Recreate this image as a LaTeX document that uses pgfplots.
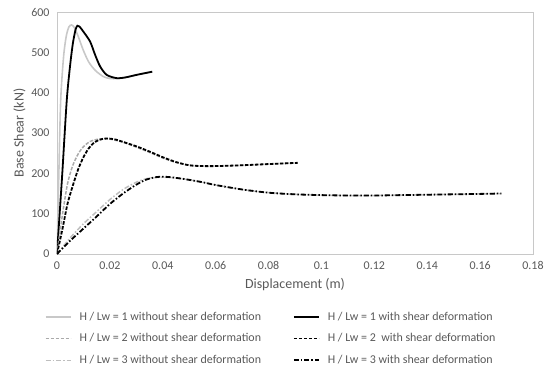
\documentclass[border=0pt]{standalone}
\usepackage{fontspec}
\setmainfont{Carlito}
\usepackage{pgfplots}
\pgfplotsset{compat=1.18}
\definecolor{txt}{RGB}{89,89,89}
\definecolor{frame}{RGB}{200,200,200}
\definecolor{gA}{RGB}{200,200,200}
\definecolor{gB}{RGB}{170,170,170}
\definecolor{gC}{RGB}{190,190,190}
\begin{document}
\begin{tikzpicture}
\useasboundingbox (-57bp,-124bp) rectangle (493bp,254bp);
\begin{axis}[
  scale only axis, width=476bp, height=242bp,
  xmin=0, xmax=0.18, ymin=0, ymax=600,
  xtick={0,0.02,0.04,0.06,0.08,0.1,0.12,0.14,0.16,0.18},
  ytick={0,100,200,300,400,500,600},
  major tick length=0pt,
  axis line style={frame, line width=0.8bp},
  /pgf/number format/assume math mode=true,
  xticklabel style={/pgf/number format/fixed, /pgf/number format/precision=2, font=\fontsize{12}{14}\selectfont, text=txt, yshift=-4bp},
  yticklabel style={font=\fontsize{12}{14}\selectfont, text=txt, xshift=-4bp},
  scaled x ticks=false,
  xlabel={Displacement (m)}, ylabel={Base Shear (kN)},
  xlabel style={font=\fontsize{14}{16}\selectfont, text=txt, yshift=-2bp},
  ylabel style={font=\fontsize{14}{16}\selectfont, text=txt, yshift=-1bp},
  legend columns=2,
  legend cell align=left,
  legend style={draw=none, fill=none, at={(0.45,-0.222)}, anchor=north,
    font=\fontsize{12}{14}\selectfont, text=txt,
    /tikz/every odd column/.append style={column sep=6bp},
    /tikz/every even column/.append style={column sep=30bp},
    row sep=8bp},
  legend image code/.code={\draw[#1] (0bp,0bp) -- (25bp,0bp);},
  every axis plot/.append style={smooth, tension=0.45},
]
% H/Lw=1 without
\addplot[color=gA, line width=1.6bp] coordinates {
(0,0)(0.0007,200)(0.0014,382)(0.0025,490)(0.0035,540)(0.0045,563)(0.0055,568)(0.0065,562)(0.008,540)(0.0099,506)(0.012,476)(0.0145,455)(0.0175,440)(0.02,435)(0.023,435)(0.026,438)(0.03,444)(0.036,452)};
\addlegendentry{H / Lw = 1 without shear deformation}
% H/Lw=1 with
\addplot[color=black, line width=1.8bp] coordinates {
(0,0)(0.001,100)(0.002,200)(0.0037,382)(0.005,470)(0.006,522)(0.007,556)(0.0077,566)(0.0085,564)(0.0099,552)(0.0125,527)(0.0144,494)(0.0163,465)(0.0188,444)(0.0226,436)(0.026,438)(0.03,444)(0.036,452)};
\addlegendentry{H / Lw = 1 with shear deformation}
% H/Lw=2 without
\addplot[color=gB, line width=1.5bp, dash pattern=on 3.5bp off 1.5bp] coordinates {
(0,0)(0.002,95)(0.004,175)(0.006,220)(0.008,248)(0.010,266)(0.0125,279)(0.015,284)(0.0175,286)(0.02,285)(0.025,277)(0.03,265)(0.035,252)(0.04,238)(0.045,227)(0.05,220)(0.055,218)(0.06,218)(0.07,220)(0.08,223)(0.091,226)};
\addlegendentry{H / Lw = 2 without shear deformation}
% H/Lw=2 with
\addplot[color=black, line width=1.8bp, dash pattern=on 3.5bp off 1.5bp] coordinates {
(0,0)(0.002,60)(0.004,125)(0.006,170)(0.008,210)(0.010,240)(0.012,262)(0.014,276)(0.016,283)(0.018,286)(0.020,286)(0.022,284)(0.025,278)(0.03,267)(0.035,254)(0.04,240)(0.045,228)(0.05,220)(0.055,218)(0.06,218)(0.07,220)(0.08,223)(0.091,226)};
\addlegendentry{H / Lw = 2\ \ with shear deformation}
% H/Lw=3 without
\addplot[color=gC, line width=1.5bp, dash pattern=on 5bp off 2bp on 1.5bp off 2bp] coordinates {
(0,0)(0.005,40)(0.01,75)(0.015,105)(0.02,135)(0.025,160)(0.03,178)(0.034,187)(0.038,190)(0.042,190)(0.048,186)(0.055,178)(0.06,171)(0.07,160)(0.08,152)(0.09,148)(0.1,146)(0.11,145)(0.12,145)(0.13,146)(0.14,147)(0.15,148)(0.16,149)(0.168,150)};
\addlegendentry{H / Lw = 3 without shear deformation}
% H/Lw=3 with
\addplot[color=black, line width=1.8bp, dash pattern=on 5bp off 2bp on 1.5bp off 2bp] coordinates {
(0,0)(0.005,33)(0.01,63)(0.015,93)(0.02,124)(0.025,150)(0.03,172)(0.034,185)(0.038,191)(0.042,191)(0.048,186)(0.055,178)(0.06,171)(0.07,160)(0.08,152)(0.09,148)(0.1,146)(0.11,145)(0.12,145)(0.13,146)(0.14,147)(0.15,148)(0.16,149)(0.168,150)};
\addlegendentry{H / Lw = 3 with shear deformation}
\end{axis}
\end{tikzpicture}
\end{document}
